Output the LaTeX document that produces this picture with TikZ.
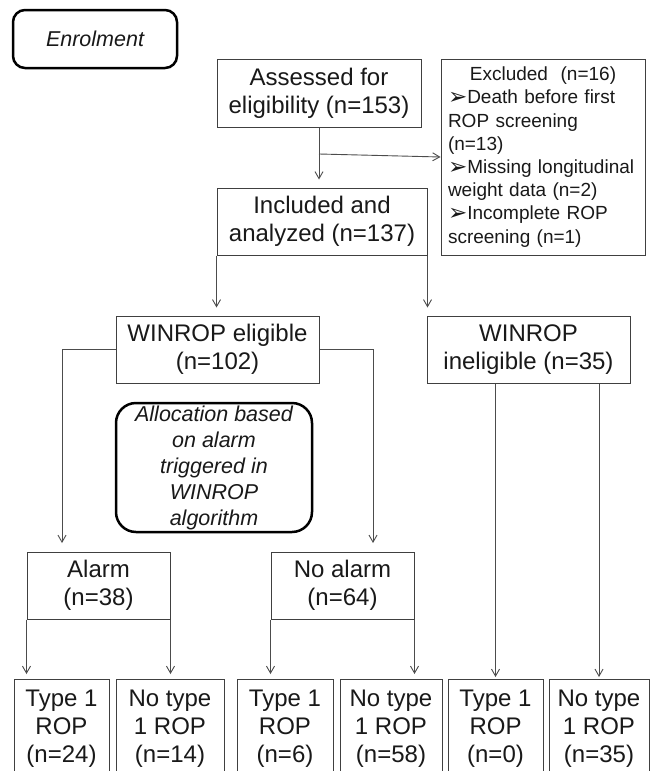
\documentclass[tikz,border=0pt]{standalone}
\usepackage{fontspec}
\setmainfont{Liberation Sans}
\newfontfamily\symfont{DejaVu Sans}
\usetikzlibrary{arrows.meta}
\newcommand{\bul}{{\symfont\fontsize{23}{23}\selectfont\raisebox{-1pt}{➢}}}
\begin{document}
\begin{tikzpicture}[x=1pt,y=-1pt,
  box/.style={draw=black!75, line width=1pt, inner sep=0pt, align=center,
    font=\fontsize{24}{28}\selectfont, text=black!90},
  rbox/.style={draw=black, line width=2.5pt, inner sep=0pt, align=center,
    font=\fontsize{21.5}{26}\selectfont\itshape, text=black!90},
  arr/.style={draw=black!70, line width=0.9pt, -{Straight Barb[length=7pt,width=8pt]}},
  lowbox/.style={box, anchor=north, minimum height=98pt},
]
\clip (0,0) rectangle (651,771);
\fill[white] (0,0) rectangle (651,771);

% top
\node[rbox, rounded corners=12pt, minimum width=164pt, minimum height=58pt] (enrol) at (95,39) {Enrolment};
\node[box, minimum width=204pt, minimum height=68pt] (assess) at (319,93) {Assessed for\\eligibility (n=153)};
\node[box, minimum width=204pt, minimum height=196pt, text width=190pt, align=left,
  font=\fontsize{19}{23.2}\selectfont] (excl) at (543,157)
  {\makebox[190pt][c]{Excluded\ \ (n=16)}\\
   \bul Death before first\\
   ROP screening\\
   (n=13)\\
   \bul Missing longitudinal\\
   weight data (n=2)\\
   \bul Incomplete ROP\\
   screening (n=1)};
\node[box, minimum width=210pt, minimum height=67pt] (incl) at (322,221.5) {Included and\\analyzed (n=137)};

% middle
\node[box, minimum width=203pt, minimum height=67pt] (elig) at (217.5,349.5) {WINROP eligible\\(n=102)};
\node[box, minimum width=203pt, minimum height=67pt] (inel) at (528.5,349.5) {WINROP\\ineligible (n=35)};
\node[rbox, rounded corners=20pt, minimum width=196pt, minimum height=129pt] (alloc) at (214,467.5)
  {Allocation based\\on alarm\\triggered in\\WINROP\\algorithm};

\node[box, minimum width=143pt, minimum height=67pt] (alarm) at (98.5,585.5) {Alarm\\(n=38)};
\node[box, minimum width=143pt, minimum height=67pt] (noalarm) at (342.5,585.5) {No alarm\\(n=64)};

% bottom
\node[lowbox, minimum width=95pt] (b1) at (61.5,679) {Type 1\\ROP\\(n=24)};
\node[lowbox, minimum width=108pt] (b2) at (170,679) {No type\\1 ROP\\(n=14)};
\node[lowbox, minimum width=96pt] (b3) at (285,679) {Type 1\\ROP\\(n=6)};
\node[lowbox, minimum width=102pt] (b4) at (391,679) {No type\\1 ROP\\(n=58)};
\node[lowbox, minimum width=95pt] (b5) at (495.5,679) {Type 1\\ROP\\(n=0)};
\node[lowbox, minimum width=100pt] (b6) at (599,679) {No type\\1 ROP\\(n=35)};

% connectors
\coordinate (br) at (319,154);
\coordinate (aIn) at (62,552);
\coordinate (nIn) at (373,552);
\draw[arr, shorten >=8pt] (assess.south) -- (assess.south |- incl.north);
\draw[arr] (br) -- (excl.west);
\draw[arr, shorten >=8pt] (incl.south west) -- (incl.south west |- elig.north);
\draw[arr, shorten >=8pt] (incl.south east) -- (incl.south east |- inel.north);
\draw[arr, shorten >=9pt] (elig.west) -| (aIn);
\draw[arr, shorten >=9pt] (elig.east) -| (nIn);
\draw[arr, shorten >=5pt] (alarm.south west) -- (alarm.south west |- b1.north);
\draw[arr, shorten >=5pt] (alarm.south east) -- (alarm.south east |- b2.north);
\draw[arr, shorten >=5pt] (noalarm.south west) -- (noalarm.south west |- b3.north);
\draw[arr, shorten >=5pt] (noalarm.south east) -- (noalarm.south east |- b4.north);
\draw[arr, shorten >=2pt] (b5 |- inel.south) -- (b5.north);
\draw[arr, shorten >=2pt] (b6 |- inel.south) -- (b6.north);
\end{tikzpicture}
\end{document}
